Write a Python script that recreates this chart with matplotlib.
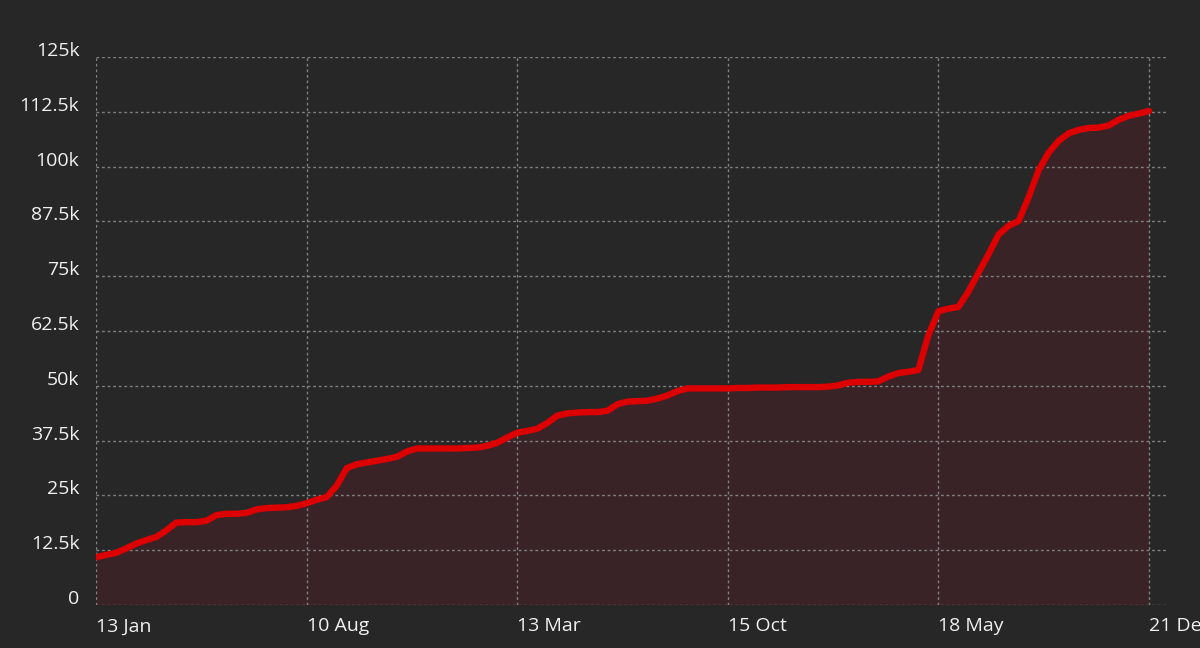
import matplotlib.pyplot as plt
import matplotlib.transforms as mtransforms
import numpy as np

# cumulative values (thousands), evenly spaced samples
values_k = [
    10.9, 11.4, 11.9, 12.9, 14.0, 14.8, 15.5, 17.0, 18.8, 18.9, 18.9,
    19.2, 20.5, 20.8, 20.8, 21.0, 21.8, 22.1, 22.2, 22.3, 22.6, 23.2,
    24.0, 24.6, 27.2, 31.2, 32.1, 32.5, 32.9, 33.3, 33.8, 35.0, 35.7,
    35.7, 35.7, 35.7, 35.7, 35.8, 35.9, 36.3, 37.0, 38.2, 39.3,
    39.7, 40.2, 41.5, 43.2, 43.7, 43.9, 44.0, 44.0, 44.3, 45.8, 46.4,
    46.5, 46.6, 47.1, 47.8, 48.8, 49.4, 49.4, 49.4, 49.4, 49.4,
    49.5, 49.5, 49.6, 49.6, 49.6, 49.7, 49.7, 49.7, 49.7, 49.8, 50.1,
    50.7, 50.9, 50.9, 51.0, 52.1, 52.9, 53.2, 53.6, 61.5, 67.0,
    67.6, 68.0, 71.5, 75.8, 80.0, 84.5, 86.5, 87.6, 93.0, 99.2, 103.2,
    105.9, 107.6, 108.4, 108.8, 108.9, 109.4, 110.7, 111.6, 112.1, 112.7,
]
tick_idx = [0, 21, 42, 63, 84, 105]
tick_labels = ["13 Jan", "10 Aug", "13 Mar", "15 Oct", "18 May", "21 Dec"]
y_ticks = [0, 12.5, 25, 37.5, 50, 62.5, 75, 87.5, 100, 112.5, 125]
y_labels = ["0", "12.5k", "25k", "37.5k", "50k", "62.5k", "75k",
            "87.5k", "100k", "112.5k", "125k"]

bg = "#272727"
plt.rcParams["font.family"] = ["Open Sans", "DejaVu Sans"]

fig = plt.figure(figsize=(12, 6.48), dpi=100, facecolor=bg)
ax = fig.add_axes([0.08, 0.0664, 0.8925, 0.8456], facecolor=bg)

x = np.arange(len(values_k))
y = np.array(values_k)
ax.fill_between(x, 0, y, color="#3a2326", lw=0, zorder=1)
ax.plot(x, y, color="#dd0000", lw=4.6, solid_capstyle="round",
        solid_joinstyle="round", zorder=3)

ax.set_xlim(0, 106.8)
ax.set_ylim(0, 125)
ax.set_xticks(tick_idx)
ax.set_xticklabels(tick_labels, ha="left")
ax.set_yticks(y_ticks)
ax.set_yticklabels(y_labels)

ax.grid(True, color="#808080", linestyle=(0, (2, 2)), linewidth=1, zorder=2)
ax.set_axisbelow(False)
for s in ax.spines.values():
    s.set_visible(False)
ax.tick_params(length=0, colors="#f0f0f0", labelsize=14)
ax.tick_params(axis="y", pad=12)
ax.tick_params(axis="x", pad=9)

# y labels sit a little above their grid lines
shift = mtransforms.ScaledTranslation(0, 8 / 100, fig.dpi_scale_trans)
for lab in ax.get_yticklabels():
    lab.set_transform(lab.get_transform() + shift)

fig.savefig("out.png", dpi=100, facecolor=bg)
